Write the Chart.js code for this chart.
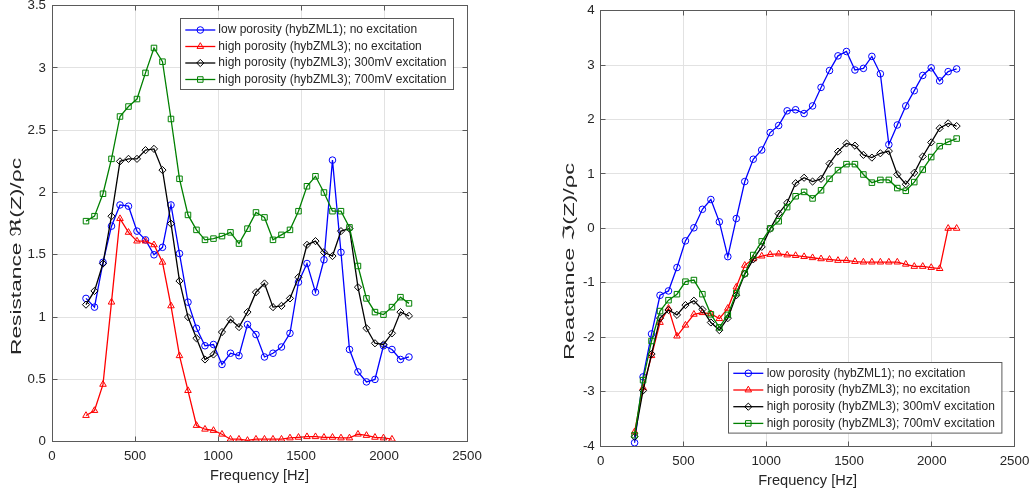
<!DOCTYPE html>
<html><head><meta charset="utf-8">
<script src="https://cdn.jsdelivr.net/npm/chart.js@4.4.0/dist/chart.umd.min.js"></script>
<style>
html,body{margin:0;padding:0;background:#fff;}
#wrap{position:relative;width:1035px;height:495px;overflow:hidden;background:#fff;}
canvas{position:absolute;top:0;}
</style></head><body>
<div id="wrap">
<canvas id="c1" width="517" height="495" style="left:0;width:517px;height:495px"></canvas>
<canvas id="c2" width="518" height="495" style="left:517px;width:518px;height:495px"></canvas>
</div>
<script>
// ---- data ----
const freqHz = [204.8, 256, 307.2, 358.4, 409.6, 460.8, 512, 563.2, 614.4, 665.6, 716.8, 768, 819.2, 870.4, 921.6, 972.8, 1024, 1075.2, 1126.4, 1177.6, 1228.8, 1280, 1331.2, 1382.4, 1433.6, 1484.8, 1536, 1587.2, 1638.4, 1689.6, 1740.8, 1792, 1843.2, 1894.4, 1945.6, 1996.8, 2048, 2099.2, 2150.4];

const seriesNames = [
  'low porosity (hybZML1); no excitation',
  'high porosity (hybZML3); no excitation',
  'high porosity (hybZML3); 300mV excitation',
  'high porosity (hybZML3); 700mV excitation'
];

// Resistance Re(Z)/rho c
const resLowNoExc = [1.15,1.08,1.44,1.73,1.90,1.89,1.69,1.62,1.50,1.56,1.90,1.51,1.12,0.91,0.77,0.78,0.62,0.71,0.69,0.94,0.86,0.68,0.71,0.76,0.87,1.28,1.43,1.20,1.46,2.26,1.52,0.74,0.56,0.48,0.50,0.77,0.74,0.66,0.68];
const resHighNoExc = [0.21,0.25,0.46,1.12,1.79,1.68,1.61,1.61,1.58,1.44,1.09,0.69,0.41,0.13,0.10,0.09,0.06,0.02,0.02,0.01,0.02,0.02,0.02,0.02,0.03,0.035,0.04,0.04,0.035,0.035,0.03,0.03,0.06,0.05,0.035,0.03,0.02];
const resHigh300 = [1.10,1.21,1.43,1.81,2.25,2.27,2.27,2.34,2.35,2.18,1.75,1.29,1.00,0.83,0.66,0.70,0.88,0.98,0.92,1.04,1.20,1.27,1.08,1.09,1.15,1.32,1.58,1.61,1.52,1.49,1.69,1.71,1.24,0.91,0.79,0.78,0.87,1.04,1.01];
const resHigh700 = [1.77,1.81,1.99,2.27,2.61,2.69,2.75,2.96,3.16,3.05,2.59,2.11,1.82,1.70,1.62,1.63,1.65,1.68,1.59,1.71,1.84,1.80,1.62,1.66,1.70,1.85,2.05,2.13,2.00,1.85,1.85,1.72,1.41,1.15,1.04,1.02,1.08,1.16,1.11];

// Reactance Im(Z)/rho c
const reaLowNoExc = [-3.94,-2.73,-1.94,-1.23,-1.15,-0.72,-0.23,0.01,0.35,0.53,0.12,-0.52,0.18,0.86,1.27,1.44,1.76,1.89,2.16,2.18,2.11,2.25,2.59,2.90,3.17,3.25,2.91,2.94,3.16,2.84,1.54,1.90,2.25,2.53,2.81,2.95,2.71,2.88,2.93];
const reaHighNoExc = [-3.74,-2.93,-2.34,-1.73,-1.47,-1.98,-1.78,-1.58,-1.55,-1.57,-1.66,-1.47,-1.08,-0.68,-0.56,-0.51,-0.48,-0.47,-0.49,-0.50,-0.52,-0.54,-0.56,-0.57,-0.59,-0.59,-0.61,-0.62,-0.62,-0.62,-0.62,-0.62,-0.66,-0.70,-0.70,-0.72,-0.74,0.00,0.00];
const reaHigh300 = [-3.83,-2.98,-2.31,-1.65,-1.50,-1.59,-1.41,-1.33,-1.49,-1.73,-1.87,-1.65,-1.23,-0.84,-0.57,-0.34,-0.01,0.27,0.47,0.83,0.93,0.86,0.91,1.19,1.41,1.56,1.52,1.35,1.30,1.38,1.42,0.99,0.81,1.02,1.32,1.58,1.84,1.93,1.88];
const reaHigh700 = [-3.80,-2.79,-2.07,-1.52,-1.32,-1.21,-0.98,-0.95,-1.21,-1.58,-1.82,-1.59,-1.19,-0.83,-0.49,-0.24,0.00,0.13,0.39,0.59,0.67,0.55,0.70,0.91,1.07,1.18,1.18,0.99,0.84,0.89,0.89,0.74,0.69,0.85,1.08,1.31,1.51,1.59,1.65];

const xTicks = [0, 500, 1000, 1500, 2000, 2500];
const resTicks = [0, 0.5, 1, 1.5, 2, 2.5, 3, 3.5];
const reaTicks = [-4, -3, -2, -1, 0, 1, 2, 3, 4];
const xTitle = 'Frequency [Hz]';
const resTitle = 'Resistance \u211C(Z)/\u03C1c';
const reaTitle = 'Reactance \u2111(Z)/\u03C1c';

// ---- style ----
const FONT = '"Liberation Sans", Arial, Helvetica, "DejaVu Sans", sans-serif';
const TXT = '#262626';
const styles = [
  {color:'#0000ff', pointStyle:'circle', radius:3.3, order:4},
  {color:'#ff0000', pointStyle:'triangle', radius:3.8, order:3},
  {color:'#000000', pointStyle:'rectRot', radius:3.6, order:2},
  {color:'#008000', pointStyle:'rect', radius:3.9, order:1}
];

function alignPx(p){ return Math.round(p - 0.5) + 0.5; }

function text(ctx, str, x, y, size, align) {
  ctx.save();
  ctx.font = size + 'px ' + FONT;
  ctx.textAlign = align;
  ctx.textBaseline = 'middle';
  ctx.fillStyle = TXT;
  ctx.fillText(str, x, y);
  ctx.restore();
}

// rotated y-axis title fitted to the span it covers in the reference
function yTitle(ctx, str, x, yTop, yBottom, size) {
  ctx.save();
  ctx.font = size + 'px ' + FONT;
  const w = ctx.measureText(str).width;
  const k = (yBottom - yTop) / w;
  ctx.translate(x, (yTop + yBottom) / 2);
  ctx.rotate(-Math.PI / 2);
  ctx.scale(k, 1);
  ctx.textAlign = 'center';
  ctx.textBaseline = 'middle';
  ctx.fillStyle = TXT;
  ctx.fillText(str, 0, 0);
  ctx.restore();
}

const framePlugin = {
  id: 'frame',
  afterDatasetsDraw(chart, args, o) {
    const {ctx, chartArea: a, scales} = chart;
    ctx.save();
    const L = alignPx(a.left), R = alignPx(a.right), T = alignPx(a.top), B = alignPx(a.bottom);
    ctx.strokeStyle = '#5a5a5a';
    ctx.lineWidth = 1;
    ctx.beginPath();
    const tl = 5;
    scales.x.ticks.forEach(t => {
      const p = alignPx(scales.x.getPixelForValue(t.value));
      ctx.moveTo(p, B); ctx.lineTo(p, B - tl);
      ctx.moveTo(p, T); ctx.lineTo(p, T + tl);
    });
    scales.y.ticks.forEach(t => {
      const p = alignPx(scales.y.getPixelForValue(t.value));
      ctx.moveTo(L, p); ctx.lineTo(L + tl, p);
      ctx.moveTo(R, p); ctx.lineTo(R - tl, p);
    });
    ctx.stroke();
    ctx.strokeRect(L, T, R - L, B - T);

    // tick labels
    scales.x.ticks.forEach(t => {
      text(ctx, String(t.value), scales.x.getPixelForValue(t.value), a.bottom + o.xLabOff, 13.3, 'center');
    });
    scales.y.ticks.forEach(t => {
      text(ctx, String(t.value), a.left - 6, scales.y.getPixelForValue(t.value), 13.3, 'right');
    });
    // axis titles
    text(ctx, xTitle, (a.left + a.right) / 2, a.bottom + o.xTitleOff, 14.6, 'center');
    yTitle(ctx, o.yTitle, o.yTitleX, o.yTitleSpan[0], o.yTitleSpan[1], 15.5);

    // legend
    const g = o.legend;
    ctx.fillStyle = '#ffffff';
    ctx.fillRect(g.x, g.y, g.w, g.h);
    ctx.strokeStyle = '#5a5a5a';
    ctx.lineWidth = 1;
    ctx.strokeRect(alignPx(g.x), alignPx(g.y), g.w, g.h);
    seriesNames.forEach((name, i) => {
      const s = styles[i];
      const yy = g.y + g.row0 + i * g.rowH;
      ctx.strokeStyle = s.color;
      ctx.lineWidth = 1.3;
      ctx.beginPath();
      ctx.moveTo(g.x + g.lx0, yy); ctx.lineTo(g.x + g.lx1, yy);
      ctx.stroke();
      ctx.fillStyle = 'rgba(0,0,0,0)';
      ctx.lineWidth = 1;
      Chart.helpers.drawPoint(ctx, {pointStyle: s.pointStyle, radius: s.radius, rotation: 0, borderWidth: 1}, g.x + (g.lx0 + g.lx1) / 2, yy);
      text(ctx, name, g.x + g.tx, yy, 12, 'left');
    });
    ctx.restore();
  }
};

function makeChart(id, seriesVals, yTicks, geo) {
  const datasets = seriesVals.map((vals, i) => {
    const s = styles[i];
    return {
      label: seriesNames[i],
      data: vals.map((v, k) => ({x: freqHz[k], y: v})),
      showLine: true,
      borderColor: s.color,
      backgroundColor: 'rgba(0,0,0,0)',
      borderWidth: 1.3,
      pointStyle: s.pointStyle,
      pointRadius: s.radius,
      pointBorderWidth: 1,
      pointBorderColor: s.color,
      pointBackgroundColor: 'rgba(0,0,0,0)',
      order: s.order,
      tension: 0
    };
  });
  return new Chart(document.getElementById(id), {
    type: 'scatter',
    data: {datasets},
    plugins: [framePlugin],
    options: {
      responsive: false,
      animation: false,
      devicePixelRatio: 1,
      events: [],
      layout: {padding: {left: 0, right: geo.padRight, top: geo.top, bottom: 0}},
      plugins: {
        legend: {display: false},
        tooltip: {enabled: false},
        frame: geo.frame
      },
      scales: {
        x: {
          type: 'linear', min: 0, max: 2500,
          afterBuildTicks: s => { s.ticks = xTicks.map(v => ({value: v})); },
          afterFit: s => { s.height = geo.xH; },
          ticks: {display: false},
          grid: {color: '#e2e2e2', drawTicks: false, lineWidth: 1},
          border: {display: false},
          title: {display: false}
        },
        y: {
          type: 'linear', min: yTicks[0], max: yTicks[yTicks.length - 1],
          afterBuildTicks: s => { s.ticks = yTicks.map(v => ({value: v})); },
          afterFit: s => { s.width = geo.yW; },
          ticks: {display: false},
          grid: {color: '#e2e2e2', drawTicks: false, lineWidth: 1},
          border: {display: false},
          title: {display: false}
        }
      }
    }
  });
}

makeChart('c1', [resLowNoExc, resHighNoExc, resHigh300, resHigh700], resTicks, {
  padRight: 50, top: 5.6, xH: 53.3, yW: 52,
  frame: {
    xLabOff: 14.5, xTitleOff: 34.5, yTitle: resTitle, yTitleX: 17, yTitleSpan: [158, 355],
    legend: {x: 180.3, y: 18.3, w: 273, h: 71, row0: 11.7, rowH: 16.5, lx0: 5, lx1: 35, tx: 38}
  }
});
makeChart('c2', [reaLowNoExc, reaHighNoExc, reaHigh300, reaHigh700], reaTicks, {
  padRight: 20.5, top: 10.7, xH: 49, yW: 83.7,
  frame: {
    xLabOff: 15.5, xTitleOff: 35, yTitle: reaTitle, yTitleX: 53, yTitleSpan: [163, 360],
    legend: {x: 211.3, y: 362.7, w: 273.4, h: 70.6, row0: 10.6, rowH: 16.7, lx0: 5, lx1: 35, tx: 38.4}
  }
});
</script>
</body></html>
